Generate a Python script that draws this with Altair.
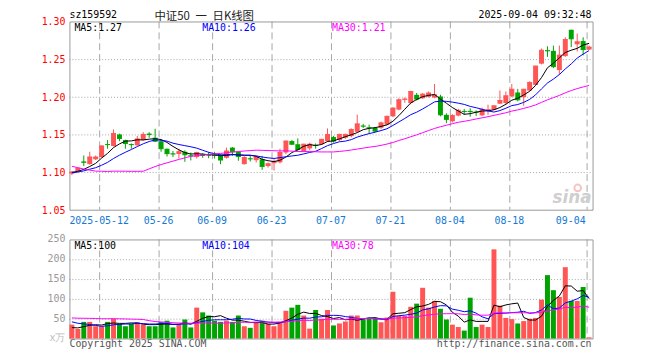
import altair as alt
import pandas as pd

# ---------------- data ----------------
open_ = [
    1.098, 1.101, 1.114, 1.1105, 1.117, 1.120, 1.137, 1.1347, 1.150, 1.1425,
    1.137, 1.1355, 1.1425, 1.151, 1.1456, 1.141, 1.131, 1.1245, 1.124, 1.127,
    1.122, 1.120, 1.1235, 1.123, 1.123, 1.1215, 1.119, 1.1325, 1.127, 1.1105,
    1.118, 1.1158, 1.117, 1.108, 1.1118, 1.113, 1.126, 1.1412, 1.137, 1.128,
    1.1315, 1.136, 1.137, 1.141, 1.1465, 1.1425, 1.1456, 1.1478, 1.1535, 1.1615,
    1.1592, 1.1588, 1.1588, 1.163, 1.174, 1.183, 1.196, 1.1917, 1.2026, 1.198,
    1.200, 1.199, 1.2004, 1.176, 1.1675, 1.175, 1.181, 1.1812, 1.180, 1.1754,
    1.182, 1.1829, 1.1908, 1.1917, 1.2004, 1.2057, 1.1996, 1.2083, 1.2158, 1.244,
    1.2618, 1.261, 1.2355, 1.254, 1.289, 1.2697, 1.274, 1.2627]
high = [
    1.101, 1.106, 1.122, 1.127, 1.122, 1.1355, 1.1425, 1.1566, 1.151, 1.143,
    1.138, 1.148, 1.153, 1.153, 1.1575, 1.1425, 1.131, 1.128, 1.131, 1.129,
    1.126, 1.127, 1.125, 1.1268, 1.127, 1.1237, 1.1325, 1.1333, 1.127, 1.121,
    1.1215, 1.1215, 1.1215, 1.1127, 1.117, 1.131, 1.142, 1.1425, 1.1447, 1.1377,
    1.139, 1.138, 1.144, 1.158, 1.148, 1.151, 1.151, 1.158, 1.1763, 1.164,
    1.163, 1.160, 1.167, 1.175, 1.186, 1.198, 1.199, 1.208, 1.205, 1.205,
    1.207, 1.217, 1.2026, 1.178, 1.177, 1.184, 1.1838, 1.1848, 1.182, 1.1855,
    1.1895, 1.1885, 1.2083, 1.207, 1.217, 1.2105, 1.2105, 1.2205, 1.2412, 1.264,
    1.267, 1.268, 1.268, 1.279, 1.289, 1.284, 1.279, 1.268]
low = [
    1.096, 1.100, 1.108, 1.110, 1.116, 1.119, 1.131, 1.134, 1.141, 1.131,
    1.131, 1.135, 1.142, 1.1456, 1.140, 1.127, 1.1206, 1.120, 1.118, 1.1136,
    1.1155, 1.118, 1.119, 1.1184, 1.118, 1.1105, 1.118, 1.1215, 1.115, 1.110,
    1.114, 1.1127, 1.103, 1.106, 1.102, 1.1114, 1.1237, 1.136, 1.128, 1.1268,
    1.129, 1.131, 1.136, 1.140, 1.139, 1.141, 1.144, 1.146, 1.152, 1.1585,
    1.151, 1.153, 1.157, 1.162, 1.173, 1.182, 1.192, 1.190, 1.195, 1.197,
    1.199, 1.198, 1.174, 1.165, 1.166, 1.174, 1.176, 1.1735, 1.1745, 1.1745,
    1.176, 1.182, 1.1905, 1.190, 1.1995, 1.194, 1.188, 1.2075, 1.215, 1.243,
    1.253, 1.238, 1.229, 1.253, 1.266, 1.260, 1.255, 1.262]
close = [
    1.100, 1.105, 1.113, 1.120, 1.120, 1.1347, 1.1365, 1.1513, 1.1447, 1.138,
    1.1365, 1.144, 1.150, 1.150, 1.141, 1.131, 1.1245, 1.124, 1.127, 1.123,
    1.1215, 1.126, 1.122, 1.1225, 1.122, 1.116, 1.128, 1.127, 1.1206, 1.1193,
    1.1175, 1.120, 1.1075, 1.111, 1.114, 1.126, 1.1412, 1.137, 1.130, 1.137,
    1.137, 1.1355, 1.1435, 1.150, 1.1412, 1.150, 1.150, 1.1566, 1.164, 1.161,
    1.1588, 1.1544, 1.1653, 1.174, 1.185, 1.196, 1.197, 1.207, 1.197, 1.2035,
    1.205, 1.2026, 1.176, 1.170, 1.175, 1.182, 1.1805, 1.1805, 1.1795, 1.183,
    1.1829, 1.188, 1.195, 1.2013, 1.210, 1.196, 1.210, 1.219, 1.2408, 1.2618,
    1.261, 1.240, 1.2553, 1.276, 1.277, 1.273, 1.2627, 1.266]
volume = [
    35, 24, 42, 42, 31, 31, 42, 50, 37, 31,
    37, 41, 35, 31, 31, 42, 45, 28, 35, 48,
    28, 78, 66, 58, 45, 42, 45, 42, 58, 31,
    27, 42, 45, 37, 31, 42, 70, 78, 85, 58,
    25, 72, 50, 72, 33, 38, 43, 58, 58, 48,
    50, 50, 41, 53, 118, 57, 57, 80, 88, 128,
    78, 95, 75, 48, 35, 29, 20, 103, 29, 35,
    29, 225, 83, 52, 49, 38, 44, 50, 52, 98,
    160, 122, 105, 180, 95, 95, 130, 3]
# sessions before the first candle (estimated from where the MA lines start); used only for the averages
prior_close = [1.160, 1.165, 1.165, 1.160, 1.140, 1.145, 1.140, 1.145, 1.140, 1.140,
               1.145, 1.145, 1.055, 1.050, 1.052, 1.055, 1.057, 1.058, 1.060, 1.063,
               1.095, 1.097, 1.098, 1.100, 1.102, 1.098, 1.100, 1.101, 1.099]
prior_volume = [48, 45, 50, 44, 46, 42, 47, 45, 43, 48,
                52, 55, 118, 95, 80, 68, 62, 55, 50, 47,
                60, 58, 57, 55, 53, 28, 26, 25, 24]

tick_index = [5, 15, 24, 34, 44, 54, 64, 74, 87]
tick_label = ["2025-05-12", "05-26", "06-09", "06-23", "07-07", "07-21", "08-04", "08-18", "09-04"]
price_ticks = [1.05, 1.10, 1.15, 1.20, 1.25, 1.30]
price_tick_label = ["1.05", "1.10", "1.15", "1.20", "1.25", "1.30"]
volume_ticks = [0, 50, 100, 150, 200, 250]
volume_tick_label = ["x万", "50", "100", "150", "200", "250"]
price_ma_label = ["MA5:1.27", "MA10:1.26", "MA30:1.21"]
volume_ma_label = ["MA5:100", "MA10:104", "MA30:78"]
title_code = "sz159592"
title_main = "中证50\u2002一\u2002日K线图"
title_time = "2025-09-04 09:32:48"
footer_left = "Copyright 2025 SINA.COM"
footer_right = "http://finance.sina.com.cn"

# ---------------- styling ----------------
RED = "#ff5555"
GREEN = "#00a400"
BLUE_TXT = "#1479d4"
MA_COLORS = ["#000000", "#0000ff", "#ff00ff"]
MONO = "DejaVu Sans Mono"
CJK = "Noto Sans CJK SC"
GRID = "#a6a6a6"

n = len(close)
p = len(prior_close)
allc = pd.Series(prior_close + close, dtype=float)
allv = pd.Series(prior_volume + volume, dtype=float)

df = pd.DataFrame({"k": range(n), "o": open_, "h": high, "l": low, "c": close, "v": volume})
df["x0"] = df["k"]
df["x1"] = df["k"] + 5 / 6
df["xc"] = df["k"] + 5 / 12
df["top"] = df[["o", "c"]].max(axis=1)
df["bot"] = df[["o", "c"]].min(axis=1)
df["dir"] = ["up" if c >= o else "down" for o, c in zip(open_, close)]
for w in (5, 10, 30):
    df[f"ma{w}"] = allc.rolling(w).mean().iloc[p:].to_numpy()
    df[f"vma{w}"] = allv.rolling(w).mean().iloc[p:].to_numpy()

ticks = pd.DataFrame({"k": tick_index, "label": tick_label})
ticks["last"] = ticks["k"] == ticks["k"].max()
one = pd.DataFrame({"a": [0]})

xs = alt.Scale(domain=[0, n], nice=False, zero=False)
ps = alt.Scale(domain=[1.30 - 320 / 760, 1.30], nice=False, zero=False)
vs = alt.Scale(domain=[0, 800], nice=False, zero=False)
col = alt.Color("dir:N", scale=alt.Scale(domain=["up", "down"], range=[RED, GREEN]), legend=None)

base = alt.Chart(df)
X = lambda f: alt.X(f, type="quantitative", scale=xs, axis=None)
PY = lambda f: alt.Y(f, type="quantitative", scale=ps, axis=None)
VY = lambda f: alt.Y(f, type="quantitative", scale=vs, axis=None)


def label(text, x, y, color="#000000", align="left", font=MONO, size=10, **kw):
    return alt.Chart(one).mark_text(align=align, baseline="alphabetic", font=font, fontSize=size,
                                    color=color, **kw).encode(
        x=alt.value(x), y=alt.value(y), text=alt.value(text))


# ---------------- price panel ----------------
vgrid_p = alt.Chart(ticks).mark_rule(color=GRID, strokeDash=[7, 4], xOffset=0.5).encode(
    x=X("k"), y=alt.YDatum(1.30, type="quantitative", scale=ps, axis=None),
    y2=alt.Y2Datum(1.05))
hgrid_p = alt.Chart(pd.DataFrame({"p": price_ticks[1:-1]})).mark_rule(
    color=GRID, strokeDash=[1, 2], yOffset=0.5).encode(
    y=PY("p"), x=alt.XDatum(0, type="quantitative", scale=xs, axis=None), x2=alt.X2Datum(n))
plabels = alt.Chart(pd.DataFrame({"p": price_ticks, "label": price_tick_label})).mark_text(
    align="right", baseline="middle", font=MONO, fontSize=10, color="#ff0000", dy=1).encode(
    x=alt.value(-4), y=PY("p"), text="label:N")
frame_p = alt.Chart(one).mark_rect(fillOpacity=0, stroke="#999999", strokeWidth=1,
                                   xOffset=0.5, x2Offset=0.5, yOffset=0.5, y2Offset=0.5).encode(
    x=alt.XDatum(0, type="quantitative", scale=xs, axis=None), x2=alt.X2Datum(n),
    y=alt.YDatum(1.30, type="quantitative", scale=ps, axis=None), y2=alt.Y2Datum(1.05))
wick = base.mark_rule(strokeWidth=1).encode(x=X("xc"), y=PY("l"), y2="h:Q", color=col)
body = base.mark_rect().encode(x=X("x0"), x2="x1:Q", y=PY("top"), y2="bot:Q", color=col)
cross = base.mark_rule(strokeWidth=1).encode(x=X("x0"), x2="x1:Q", y=PY("c"), color=col)
ma_lines = [base.mark_line(color=cl, strokeWidth=1).encode(x=X("xc"), y=PY(f"ma{w}"))
            for w, cl in zip((5, 10, 30), MA_COLORS)]
date_mid = alt.Chart(ticks).transform_filter("!datum.last").mark_text(
    align="center", baseline="alphabetic", dy=14, font=MONO, fontSize=10, color=BLUE_TXT).encode(
    x=X("k"), y=alt.YDatum(1.05, type="quantitative", scale=ps, axis=None), text="label:N")
date_last = alt.Chart(ticks).transform_filter("datum.last").mark_text(
    align="right", baseline="alphabetic", dy=14, dx=-1, font=MONO, fontSize=10, color=BLUE_TXT).encode(
    x=X("k"), y=alt.YDatum(1.05, type="quantitative", scale=ps, axis=None), text="label:N")

legend_x = [5, 134, 265]
price_texts = [label(t, x, 9.5, c) for t, x, c in zip(price_ma_label, legend_x, MA_COLORS)]
volume_texts = [label(t, x, 229.5, c) for t, x, c in zip(volume_ma_label, legend_x, MA_COLORS)]

titles = [
    label(title_code, 0, -3.5),
    label(title_main, 136, -1.5, "#222222", align="center", font=CJK, size=11.5),
    label(title_time, 527, -3.5, align="right"),
    label("sina", 527, 183, "#cfcfcf", align="right", font="DejaVu Sans", size=17,
          fontStyle="italic", fontWeight="bold"),
    label(footer_left, 0, 329, "#555555"),
    label(footer_right, 527, 329, "#555555", align="right"),
]
logo = alt.Chart(one).mark_point(shape="circle", filled=False, stroke="#f2aaaa", strokeWidth=2,
                                 size=45).encode(x=alt.value(513), y=alt.value(168))

price = alt.layer(vgrid_p, hgrid_p, frame_p, wick, body, cross, *ma_lines, date_mid, date_last,
                  plabels, *price_texts, *titles, logo)

# ---------------- volume panel ----------------
vgrid_v = alt.Chart(ticks).mark_rule(color=GRID, strokeDash=[7, 4], xOffset=0.5).encode(
    x=X("k"), y=alt.YDatum(250, type="quantitative", scale=vs, axis=None), y2=alt.Y2Datum(0))
hgrid_v = alt.Chart(pd.DataFrame({"v": volume_ticks[1:-1]})).mark_rule(
    color=GRID, strokeDash=[1, 2], yOffset=0.5).encode(
    y=VY("v"), x=alt.XDatum(0, type="quantitative", scale=xs, axis=None), x2=alt.X2Datum(n))
frame_v = alt.Chart(one).mark_rect(fillOpacity=0, stroke="#999999", strokeWidth=1,
                                   xOffset=0.5, x2Offset=0.5, yOffset=0.5, y2Offset=0.5).encode(
    x=alt.XDatum(0, type="quantitative", scale=xs, axis=None), x2=alt.X2Datum(n),
    y=alt.YDatum(250, type="quantitative", scale=vs, axis=None), y2=alt.Y2Datum(0))
bars = base.mark_rect().encode(x=X("x0"), x2="x1:Q", y=VY("v"), y2=alt.Y2Datum(0), color=col)
vma_lines = [base.mark_line(color=cl, strokeWidth=1).encode(x=X("xc"), y=VY(f"vma{w}"))
             for w, cl in zip((5, 10, 30), MA_COLORS)]
vlabels = alt.Chart(pd.DataFrame({"v": volume_ticks, "label": volume_tick_label})).mark_text(
    align="right", baseline="middle", font=MONO, fontSize=10).encode(
    x=alt.value(-4), y=VY("v"), text="label:N",
    color=alt.condition("datum.v == 0", alt.value("#bbbbbb"), alt.value("#999999")))

volume_panel = alt.layer(vgrid_v, hgrid_v, frame_v, bars, *vma_lines, vlabels, *volume_texts)

chart = alt.layer(price, volume_panel).resolve_scale(y="independent").properties(
    width=528, height=320,
    autosize=alt.AutoSizeParams(type="none"),
    padding={"left": 62, "top": 12, "right": 60, "bottom": 12},
).configure_view(stroke=None)

chart.save("out.html", embed_options={"renderer": "svg", "actions": False})
